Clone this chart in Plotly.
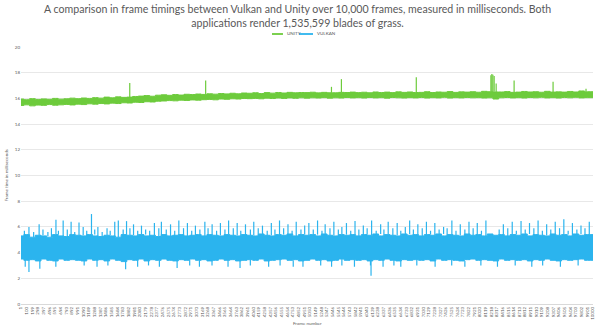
import plotly.graph_objects as go

# ---- data ----
# band envelope per 100-frame bucket (upper / lower edge of the dense trace)
bucket_start = list(range(1, 10000, 100))

unity_hi = [15.95, 15.90, 15.98, 15.92, 15.96, 15.93, 16.00, 15.94, 15.97, 16.02,
            15.98, 16.03, 16.00, 16.06, 16.02, 16.10, 16.05, 16.12, 16.08, 16.10,
            16.15, 16.18, 16.22, 16.17, 16.25, 16.28, 16.24, 16.30, 16.26, 16.32,
            16.30, 16.34, 16.31, 16.36, 16.33, 16.38, 16.35, 16.40, 16.36, 16.42,
            16.40, 16.44, 16.38, 16.45, 16.41, 16.46, 16.42, 16.47, 16.44, 16.46,
            16.45, 16.48, 16.43, 16.47, 16.44, 16.44, 16.47, 16.46, 16.49, 16.45,
            16.48, 16.44, 16.50, 16.46, 16.49, 16.45, 16.51, 16.47, 16.50, 16.46,
            16.47, 16.52, 16.46, 16.50, 16.48, 16.53, 16.47, 16.51, 16.49, 16.52,
            16.48, 16.55, 16.52, 16.50, 16.50, 16.53, 16.47, 16.49, 16.54, 16.50,
            16.52, 16.48, 16.55, 16.49, 16.51, 16.49, 16.54, 16.50, 16.58, 16.52]
unity_lo = [15.45, 15.50, 15.42, 15.48, 15.46, 15.52, 15.47, 15.50, 15.53, 15.49,
            15.55, 15.52, 15.58, 15.55, 15.60, 15.57, 15.63, 15.60, 15.66, 15.64,
            15.70, 15.68, 15.74, 15.72, 15.78, 15.80, 15.83, 15.81, 15.86, 15.84,
            15.88, 15.86, 15.90, 15.92, 15.89, 15.95, 15.93, 15.97, 15.95, 15.99,
            15.98, 16.00, 15.97, 16.02, 15.99, 16.03, 16.00, 16.04, 16.01, 16.05,
            16.02, 16.05, 16.03, 16.06, 16.02, 16.05, 16.03, 16.07, 16.04, 16.06,
            16.03, 16.07, 16.04, 16.06, 16.02, 16.07, 16.05, 16.03, 16.06, 16.04,
            16.07, 16.03, 16.06, 16.04, 16.08, 16.03, 16.06, 16.04, 16.07, 16.05,
            16.06, 16.03, 16.05, 15.95, 16.05, 16.07, 16.04, 16.06, 16.03, 16.07,
            16.05, 16.08, 16.04, 16.06, 16.03, 16.07, 16.05, 16.08, 16.04, 16.06]
unity_spike_frames = [1902, 3229, 5428, 5602, 6911, 8215, 8232, 8250, 8272, 8307, 8621, 9302, 9878]
unity_spike_ms = [17.2, 17.4, 16.9, 17.5, 17.65, 17.8, 17.9, 17.85, 17.75, 17.15, 17.4, 17.3, 16.75]

vulkan_hi = [5.3, 5.4, 5.2, 5.35, 5.3, 5.2, 5.4, 5.3, 5.25, 5.4,
             5.35, 5.3, 5.4, 5.3, 5.25, 5.35, 5.3, 5.2, 5.4, 5.35,
             5.3, 5.4, 5.3, 5.35, 5.25, 5.4, 5.3, 5.35, 5.4, 5.3,
             5.35, 5.4, 5.3, 5.4, 5.35, 5.3, 5.4, 5.35, 5.3, 5.4,
             5.35, 5.3, 5.45, 5.35, 5.3, 5.4, 5.35, 5.45, 5.3, 5.4,
             5.35, 5.4, 5.3, 5.45, 5.35, 5.3, 5.4, 5.35, 5.4, 5.3,
             5.4, 5.35, 5.45, 5.3, 5.4, 5.35, 5.3, 5.45, 5.35, 5.4,
             5.3, 5.4, 5.35, 5.45, 5.3, 5.4, 5.35, 5.3, 5.45, 5.35,
             5.4, 5.3, 5.45, 5.35, 5.4, 5.3, 5.4, 5.35, 5.45, 5.3,
             5.4, 5.35, 5.3, 5.45, 5.35, 5.4, 5.3, 5.45, 5.35, 5.4]
vulkan_lo = [3.5, 3.4, 3.45, 3.35, 3.5, 3.4, 3.35, 3.5, 3.4, 3.45,
             3.4, 3.35, 3.5, 3.4, 3.45, 3.35, 3.5, 3.4, 3.3, 3.45,
             3.4, 3.5, 3.35, 3.45, 3.4, 3.5, 3.4, 3.35, 3.45, 3.4,
             3.5, 3.4, 3.45, 3.35, 3.4, 3.5, 3.4, 3.45, 3.35, 3.4,
             3.45, 3.4, 3.5, 3.35, 3.4, 3.45, 3.5, 3.4, 3.45, 3.35,
             3.4, 3.5, 3.4, 3.45, 3.35, 3.4, 3.5, 3.4, 3.45, 3.4,
             3.45, 3.35, 3.45, 3.4, 3.5, 3.4, 3.35, 3.45, 3.4, 3.45,
             3.4, 3.45, 3.35, 3.5, 3.4, 3.45, 3.4, 3.35, 3.45, 3.5,
             3.4, 3.45, 3.4, 3.35, 3.5, 3.4, 3.45, 3.4, 3.45, 3.35,
             3.45, 3.4, 3.5, 3.4, 3.35, 3.45, 3.4, 3.45, 3.5, 3.4]
vulkan_peak_frames = [60, 140, 222, 318, 385, 471, 533, 612, 655, 738, 810, 877, 940, 1015, 1088,
                      1150, 1233, 1290, 1345, 1420, 1505, 1560, 1640, 1702, 1787, 1846, 1905,
                      1968, 2041, 2107, 2180, 2250, 2333, 2410, 2455, 2540, 2615, 2688, 2760,
                      2842, 2910, 2985, 3050, 3128, 3215, 3271, 3342, 3420, 3487, 3566, 3630,
                      3712, 3780, 3843, 3925, 4011, 4070, 4148, 4222, 4305, 4377, 4440, 4520,
                      4592, 4668, 4740, 4812, 4895, 4960, 5033, 5110, 5185, 5262, 5318, 5402,
                      5470, 5548, 5610, 5690, 5765, 5840, 5907, 5985, 6052, 6130, 6210, 6288,
                      6345, 6420, 6501, 6577, 6640, 6719, 6795, 6860, 6938, 7015, 7088, 7160,
                      7235, 7310, 7388, 7450, 7533, 7605, 7680, 7760, 7832, 7905, 7977, 8050,
                      8128, 8360, 8433, 8510, 8588, 8660, 8742, 8815, 8890, 8966, 9040, 9115,
                      9190, 9262, 9340, 9415, 9490, 9566, 9640, 9718, 9790, 9860, 9935]
vulkan_peak_ms = [5.7, 6.0, 5.6, 6.2, 5.8, 5.6, 5.9, 6.55, 5.7, 6.5, 5.8, 6.4, 5.6, 6.35, 6.0,
                  5.7, 7.0, 5.8, 6.0, 5.6, 5.9, 5.7, 6.4, 6.5, 5.8, 6.45, 5.9, 6.2, 5.7,
                  6.1, 5.8, 5.7, 6.3, 5.9, 6.4, 5.8, 6.2, 5.7, 6.5, 5.9, 6.3, 5.7, 6.1,
                  5.8, 6.4, 5.9, 6.2, 5.7, 6.3, 5.8, 6.5, 5.9, 6.3, 5.7, 6.2, 5.8, 6.4,
                  5.9, 6.1, 5.7, 6.3, 5.8, 6.5, 5.9, 6.2, 5.7, 6.4, 5.8, 6.1, 6.3, 5.8,
                  6.5, 5.7, 6.2, 5.9, 6.4, 5.8, 6.0, 6.3, 5.7, 6.45, 5.8, 6.1, 5.9, 6.5,
                  5.7, 6.2, 5.8, 6.4, 5.9, 6.3, 5.7, 6.0, 6.5, 5.8, 6.2, 5.9, 6.4, 5.7,
                  6.3, 5.8, 6.0, 5.9, 6.5, 5.7, 6.2, 5.8, 6.4, 5.9, 6.3, 5.7, 6.5, 5.8,
                  6.2, 5.9, 6.4, 5.7, 6.45, 5.8, 6.3, 5.9, 6.5, 5.7, 6.2, 5.8, 6.4,
                  5.9, 6.6, 5.7, 6.3, 5.8, 6.1, 5.9, 6.4]
vulkan_dip_frames = [75, 140, 330, 610, 1105, 1330, 1520, 1830, 2040, 2230, 2420, 2730, 2950,
                     3120, 3340, 3620, 3830, 4010, 4330, 4530, 4760, 4930, 5240, 5430, 5610,
                     5830, 6110, 6330, 6520, 6640, 6920, 7240, 7530, 7760, 8040, 8330, 8640,
                     8930, 9120, 9430, 9740]
vulkan_dip_ms = [2.9, 2.5, 2.75, 2.9, 3.0, 2.9, 3.0, 2.7, 2.9, 3.0, 2.9, 2.8, 3.0,
                 2.9, 3.0, 2.9, 2.8, 3.0, 2.9, 3.0, 2.9, 2.9, 3.0, 2.9, 3.0,
                 2.9, 3.0, 2.9, 3.0, 2.9, 3.0, 2.9, 3.0, 2.9, 3.0, 2.9, 3.0,
                 2.9, 3.0, 2.9, 3.0]
vulkan_dip_frames[26:26] = [6120]
vulkan_dip_ms[26:26] = [2.2]

tick_frames = list(range(1, 10001, 99))   # 1, 100, 199, ... 10000
tick_labels = [str(f) for f in tick_frames]
y_ticks = [0, 2, 4, 6, 8, 10, 12, 14, 16, 18, 20]

title_text = ("A comparison in frame timings between Vulkan and Unity over 10,000 frames, "
              "measured in milliseconds. Both<br>applications render 1,535,599 blades of grass.")

UNITY_C = "#6dcb3c"
VULKAN_C = "#2bb4ee"
TXT = "#595959"
FONT = "Lato, Roboto, sans-serif"


def band_value(frame, arr):
    idx = min(int((frame - 1) // 100), len(arr) - 1)
    return arr[idx]


def spikes(frames, values, base_arr):
    xs, ys = [], []
    for f, v in zip(frames, values):
        xs += [f, f, None]
        ys += [band_value(f, base_arr), v, None]
    return xs, ys


def add_series(fig, name, color, hi, lo, up_f, up_v, dn_f, dn_v):
    bx = bucket_start + [10000]
    fig.add_trace(go.Scatter(x=bx, y=lo + [lo[-1]], mode="lines",
                             line=dict(color=color, width=1, shape="hvh"),
                             hoverinfo="skip", showlegend=False))
    fig.add_trace(go.Scatter(x=bx, y=hi + [hi[-1]], mode="lines", name=name,
                             line=dict(color=color, width=1, shape="hvh"),
                             fill="tonexty", fillcolor=color))
    sx, sy = spikes(up_f, up_v, hi)
    if dn_f:
        dx, dy = spikes(dn_f, dn_v, lo)
        sx += dx
        sy += dy
    fig.add_trace(go.Scatter(x=sx, y=sy, mode="lines", line=dict(color=color, width=1.2),
                             hoverinfo="skip", showlegend=False))


fig = go.Figure()
add_series(fig, "UNITY", UNITY_C, unity_hi, unity_lo,
           unity_spike_frames, unity_spike_ms, [], [])
add_series(fig, "VULKAN", VULKAN_C, vulkan_hi, vulkan_lo,
           vulkan_peak_frames, vulkan_peak_ms, vulkan_dip_frames, vulkan_dip_ms)

fig.update_layout(
    width=599, height=328,
    margin=dict(l=21, r=6, t=47, b=24),
    paper_bgcolor="white", plot_bgcolor="white",
    showlegend=False,
    font=dict(family=FONT, color=TXT),
    xaxis=dict(range=[1, 10000], tickmode="array", tickvals=tick_frames,
               ticktext=tick_labels, tickangle=-90, showgrid=False,
               zeroline=False, showline=True, linecolor="#d9d9d9", linewidth=1,
               ticks="", tickfont=dict(size=4.5, color=TXT), automargin=False),
    yaxis=dict(range=[0, 20], tickmode="array", tickvals=y_ticks,
               showgrid=True, gridcolor="#e8e8e8", gridwidth=1,
               zeroline=False, ticks="", tickfont=dict(size=4.5, color=TXT),
               automargin=False),
)

# chart title
fig.add_annotation(text=title_text, xref="paper", yref="paper",
                   x=(297 - 21) / 572, y=(304 - 1) / 257, xanchor="center", yanchor="top",
                   showarrow=False, align="center",
                   font=dict(size=10.6, color=TXT, family=FONT))

# axis titles
fig.add_annotation(text="Frame number", xref="paper", yref="paper",
                   x=0.5, y=-0.074, xanchor="center", yanchor="middle",
                   showarrow=False, font=dict(size=4.5, color=TXT))
fig.add_annotation(text="Frame time in milliseconds", xref="paper", yref="paper",
                   x=-0.0245, y=0.5, xanchor="center", yanchor="middle",
                   textangle=-90, showarrow=False, font=dict(size=4.5, color=TXT))

# legend (top centre)
ly = (304 - 34) / 257
fig.add_shape(type="line", xref="paper", yref="paper", x0=0.4388, x1=0.458,
              y0=ly, y1=ly, line=dict(color=UNITY_C, width=1.8))
fig.add_annotation(text="UNITY", xref="paper", yref="paper", x=0.461, y=ly,
                   xanchor="left", yanchor="middle", showarrow=False,
                   font=dict(size=4.5, color=TXT))
fig.add_shape(type="line", xref="paper", yref="paper", x0=0.486, x1=0.5105,
              y0=ly, y1=ly, line=dict(color=VULKAN_C, width=1.8))
fig.add_annotation(text="VULKAN", xref="paper", yref="paper", x=0.514, y=ly,
                   xanchor="left", yanchor="middle", showarrow=False,
                   font=dict(size=4.5, color=TXT))

fig.write_html("out.html")
